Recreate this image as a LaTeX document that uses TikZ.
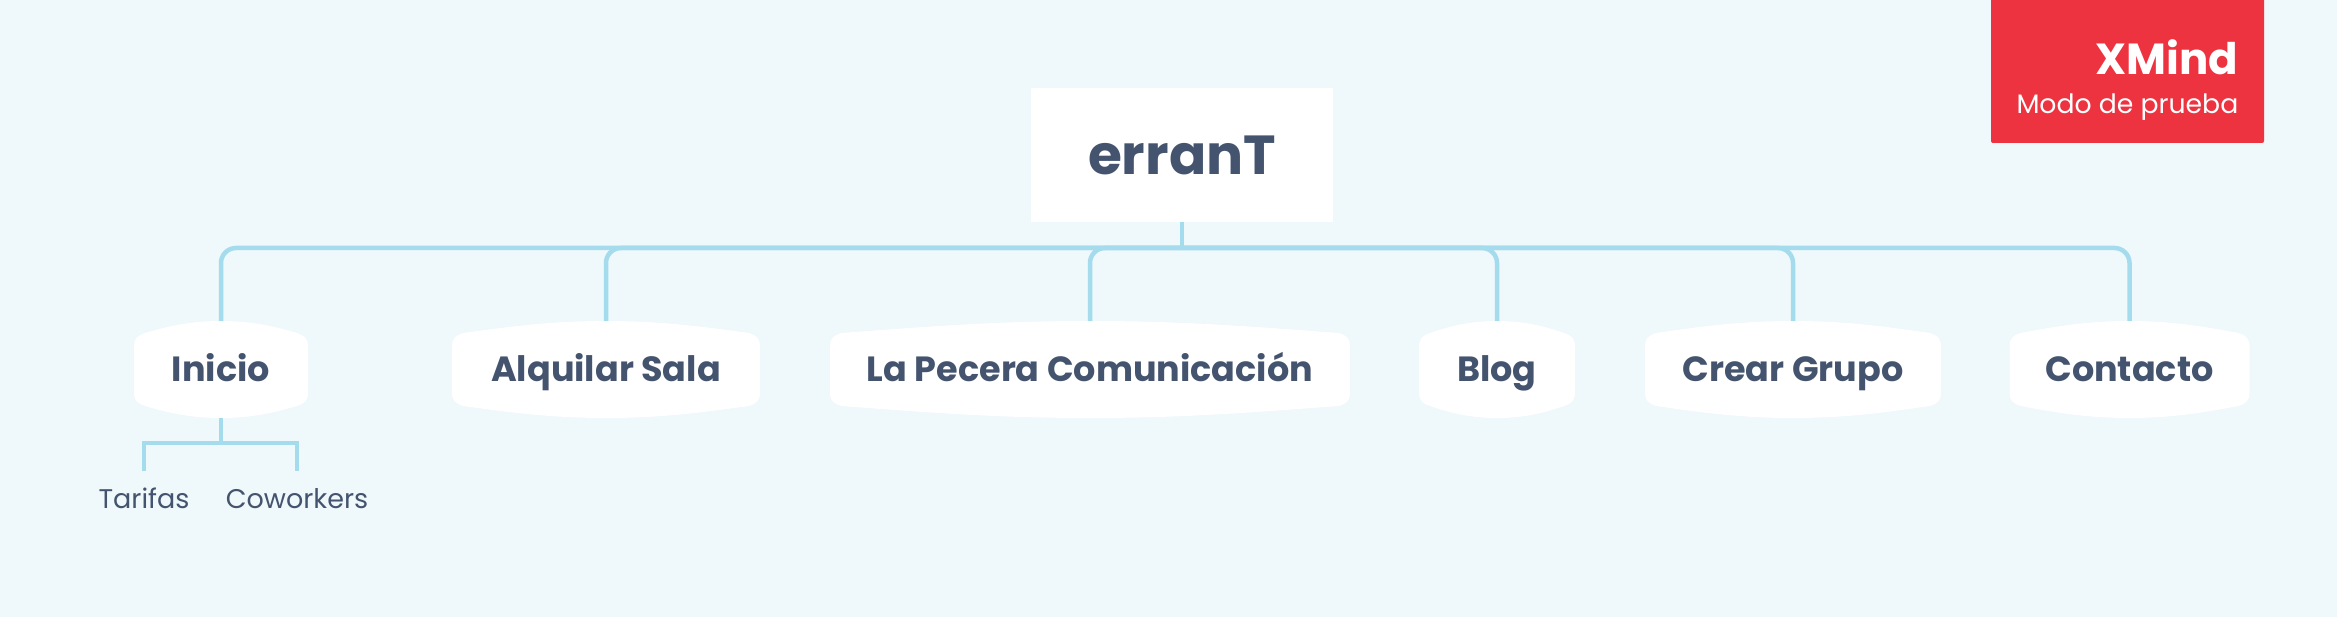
\documentclass[tikz,border=0pt]{standalone}
\usepackage{fontspec}
\setmainfont{Poppins}
\definecolor{bgc}{HTML}{EFF8FB}
\definecolor{linec}{HTML}{A4DCEE}
\definecolor{inkc}{HTML}{44546F}
\definecolor{redc}{HTML}{EE3340}
\tikzset{
  conn/.style={draw=linec,line width=4.5pt},
  topiclabel/.style={text=inkc,font=\fontsize{35}{35}\selectfont\bfseries,inner sep=0pt,text height=25pt,text depth=0pt,minimum height=97pt,align=center},
  sublabel/.style={text=inkc,font=\fontsize{27}{27}\selectfont,inner sep=0pt,anchor=base},
  rootlabel/.style={fill=white,text=inkc,font=\fontsize{55}{55}\selectfont\bfseries,inner sep=0pt,minimum width=302pt,minimum height=134pt,text height=39pt,text depth=0pt},
}
% centre x, half width, text, name
\newcommand{\topicnode}[4]{%
  \fill[white] (#1-#2,345) .. controls (#1-#2,339) and (#1-#2+4,335) .. (#1-#2+11,333)
    .. controls (#1-0.6*#2,326) and (#1-0.35*#2,321) .. (#1,321)
    .. controls (#1+0.35*#2,321) and (#1+0.6*#2,326) .. (#1+#2-11,333)
    .. controls (#1+#2-4,335) and (#1+#2,339) .. (#1+#2,345)
    -- (#1+#2,394)
    .. controls (#1+#2,400) and (#1+#2-4,404) .. (#1+#2-11,406)
    .. controls (#1+0.6*#2,413) and (#1+0.35*#2,418) .. (#1,418)
    .. controls (#1-0.35*#2,418) and (#1-0.6*#2,413) .. (#1-#2+11,406)
    .. controls (#1-#2+4,404) and (#1-#2,400) .. (#1-#2,394) -- cycle;
  \node[topiclabel,minimum width=2*#2*1pt] (#4) at (#1,369.5) {#3};
}
\begin{document}
\begin{tikzpicture}[x=1pt,y=-1pt]
\useasboundingbox (0,0) rectangle (2337,617);
\fill[bgc] (0,0) rectangle (2337,617);

% watermark
\fill[redc,rounded corners=2pt] (1991,-10) rectangle (2264,143);
\node[text=white,font=\fontsize{43.5}{43.5}\selectfont\bfseries,inner sep=0pt,anchor=base east] (xmind) at (2238.5,75) {XMind};
\node[text=white,font=\fontsize{26.7}{26.7}\selectfont,inner sep=0pt,anchor=base east] (modo) at (2238.5,114) {Modo de prueba};

\node[rootlabel] (root) at (1182,155) {erranT};
\coordinate (bus) at (1182,248);

\topicnode{221}{87}{Inicio}{inicio}
\topicnode{606}{154}{Alquilar Sala}{alquilar}
\topicnode{1090}{260}{La Pecera Comunicación}{pecera}
\topicnode{1497}{78}{Blog}{blog}
\topicnode{1793}{148}{Crear Grupo}{crear}
\topicnode{2129.5}{120}{Contacto}{contacto}

\draw[conn] (root.south) -- (bus);
\foreach \c in {inicio,alquilar,pecera,blog,crear,contacto}
  \draw[conn,rounded corners=15pt] (bus) -- (bus -| \c.north) -- (\c.north);

\node[sublabel] (tarifas) at (144,508.5) {Tarifas};
\node[sublabel] (coworkers) at (297,508.5) {Coworkers};
\coordinate (fork) at (221,443);
\coordinate (tarifastop) at (144,471);
\coordinate (coworkerstop) at (297,471);
\draw[conn] (inicio.south) -- (fork);
\draw[conn] (tarifastop) -- (tarifastop |- fork) -- (coworkerstop |- fork) -- (coworkerstop);
\end{tikzpicture}
\end{document}
